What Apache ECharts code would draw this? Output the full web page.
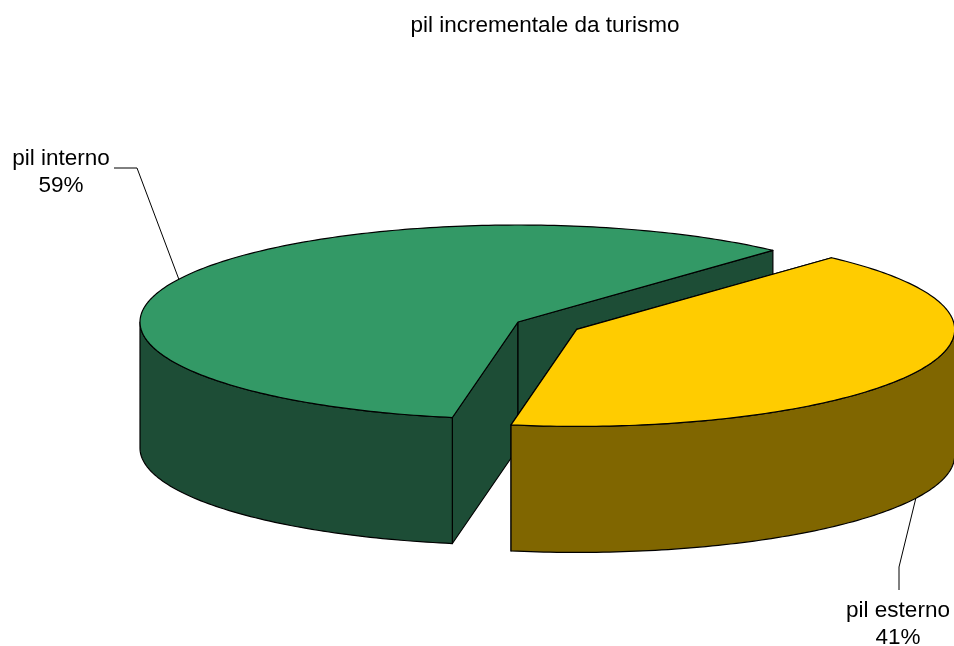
<!DOCTYPE html>
<html>
<head>
<meta charset="utf-8">
<script src="https://cdn.jsdelivr.net/npm/echarts@6/dist/echarts.min.js"></script>
<style>
  html, body { margin: 0; padding: 0; background: #fff; }
  #pie3d { width: 954px; height: 646px; }
</style>
</head>
<body>
<div id="pie3d"></div>
<script>
// dati
var categories = ['pil interno', 'pil esterno'];
var values = [59, 41];

// stile
var topColors = ['#339966', '#FFCC00'];
var sideColors = ['#1d4d36', '#806600'];
var explode = [0, 0.173];
var labelPos = [[61, 172], [898, 624]];
var leaderBend = [[[114, 168], [137, 168]], [[899, 590], [899, 567]]];
var leaderOnBottom = [false, true];

var cx = 518, cy = 322, rx = 378, ry = 97, depth = 126, startDeg = 100;
var total = values.reduce(function (a, b) { return a + b; }, 0);

function rad(d) { return d * Math.PI / 180; }

function slice(i) {
    var before = 0;
    for (var k = 0; k < i; k++) before += values[k];
    var s = startDeg + 360 * before / total;
    var e = s + 360 * values[i] / total;
    var mid = (s + e) / 2;
    var ox = rx * Math.cos(rad(mid)) * explode[i];
    var oy = ry * Math.sin(rad(mid)) * explode[i];
    return { s: s, e: e, mid: mid, x: cx + ox, y: cy + oy };
}

function rim(sl, deg, dz) {
    return [sl.x + rx * Math.cos(rad(deg)), sl.y + ry * Math.sin(rad(deg)) + (dz || 0)];
}

function arc(sl, a, b, dz) {
    var pts = [];
    var n = Math.max(2, Math.ceil(Math.abs(b - a)));
    for (var j = 0; j <= n; j++) pts.push(rim(sl, a + (b - a) * j / n, dz));
    return pts;
}

function renderItem(params, api) {
    var i = params.dataIndex;
    var sl = slice(i);
    var apex = [sl.x, sl.y];
    var apexLow = [sl.x, sl.y + depth];
    var line = { stroke: '#000', lineWidth: 1.2, lineJoin: 'round' };
    var children = [];

    // facce radiali
    [sl.s, sl.e].forEach(function (d) {
        children.push({
            type: 'polygon',
            shape: { points: [apex, rim(sl, d), rim(sl, d, depth), apexLow] },
            style: Object.assign({ fill: sideColors[i] }, line)
        });
    });

    // parete esterna (parte frontale)
    for (var k = -1; k <= 2; k++) {
        var a = Math.max(sl.s, 360 * k), b = Math.min(sl.e, 360 * k + 180);
        if (b > a) {
            var pts = arc(sl, a, b, 0).concat(arc(sl, b, a, depth));
            children.push({
                type: 'polygon',
                shape: { points: pts },
                style: Object.assign({ fill: sideColors[i] }, line)
            });
        }
    }

    // faccia superiore
    children.push({
        type: 'polygon',
        shape: { points: [apex].concat(arc(sl, sl.s, sl.e, 0)) },
        style: Object.assign({ fill: topColors[i] }, line)
    });

    // linea guida ed etichetta
    var anchor = rim(sl, sl.mid, leaderOnBottom[i] ? depth : 0);
    children.push({
        type: 'polyline',
        shape: { points: leaderBend[i].concat([anchor]) },
        style: { stroke: '#000', lineWidth: 1, fill: null }
    });
    children.push({
        type: 'text',
        style: {
            text: categories[i] + '\n' + Math.round(values[i] / total * 100) + '%',
            x: labelPos[i][0],
            y: labelPos[i][1],
            align: 'center',
            verticalAlign: 'middle',
            fontFamily: '"Liberation Sans", Arial, sans-serif',
            fontSize: 22.5,
            lineHeight: 27,
            fill: '#000'
        }
    });

    return { type: 'group', children: children };
}

var option = {
    backgroundColor: '#fff',
    animation: false,
    title: {
        text: 'pil incrementale da turismo',
        left: 545,
        top: 14,
        textAlign: 'center',
        padding: 0,
        textStyle: {
            fontFamily: '"Liberation Sans", Arial, sans-serif',
            fontSize: 22.5,
            fontWeight: 'normal',
            color: '#000'
        }
    },
    series: [{
        type: 'custom',
        coordinateSystem: 'none',
        renderItem: renderItem,
        data: values
    }]
};

var chart = echarts.init(document.getElementById('pie3d'));
chart.setOption(option);
window.addEventListener('resize', function () { chart.resize(); });
</script>
</body>
</html>
